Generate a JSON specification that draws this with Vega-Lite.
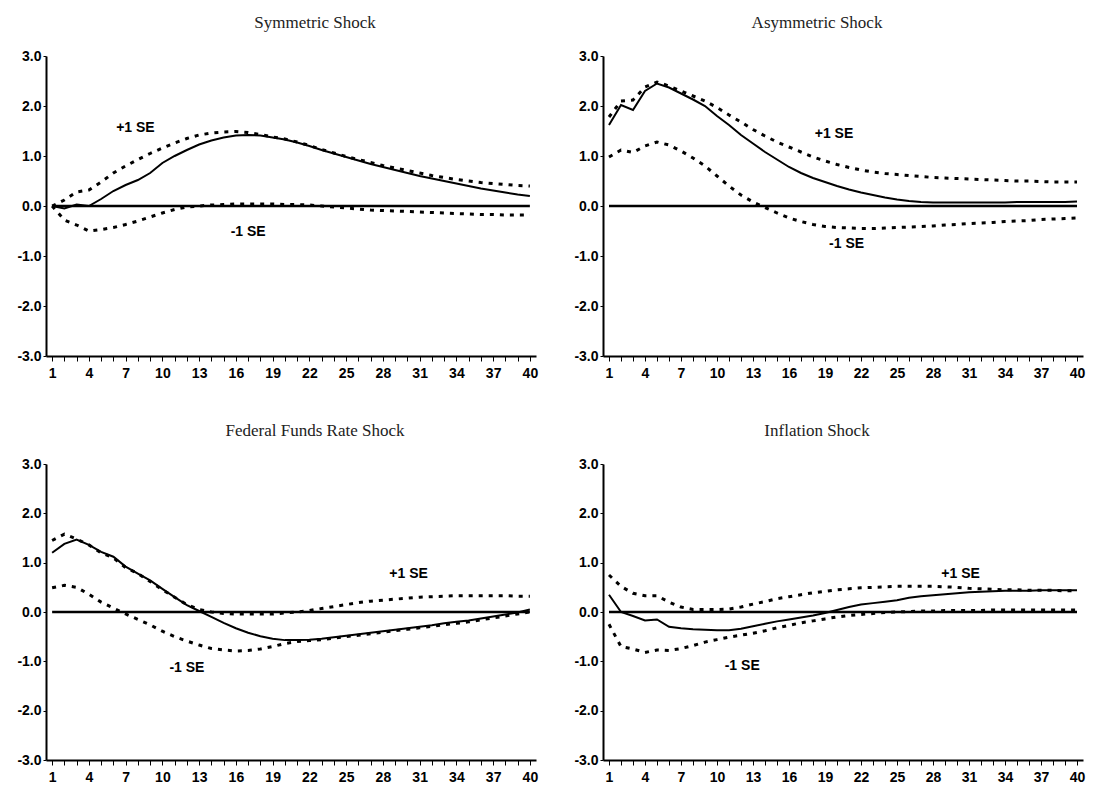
{
  "$schema": "https://vega.github.io/schema/vega-lite/v6.json",
  "background": "white",
  "padding": {"left": 16, "top": 14, "right": 2, "bottom": 2},
  "config": {
    "view": {"stroke": null},
    "axis": {"grid": false, "domainColor": "black", "domainWidth": 2, "tickColor": "black", "labelColor": "black", "labelFont": "Liberation Sans", "labelFontWeight": "bold", "title": null, "labelOverlap": false, "labelBound": false},
    "title": {"font": "Liberation Serif", "fontSize": 17, "fontWeight": "normal", "color": "#222", "anchor": "middle", "offset": 17}
  },
  "datasets": {
    "sym": [
      {"t":1,"r":0,"u":0,"l":0},{"t":2,"r":-0.05,"u":0.12,"l":-0.28},{"t":3,"r":0.03,"u":0.28,"l":-0.38},{"t":4,"r":0.0,"u":0.32,"l":-0.5},
      {"t":5,"r":0.14,"u":0.48,"l":-0.47},{"t":6,"r":0.3,"u":0.66,"l":-0.43},{"t":7,"r":0.42,"u":0.8,"l":-0.37},{"t":8,"r":0.52,"u":0.93,"l":-0.3},
      {"t":9,"r":0.66,"u":1.05,"l":-0.22},{"t":10,"r":0.86,"u":1.16,"l":-0.14},{"t":11,"r":1.0,"u":1.26,"l":-0.07},{"t":12,"r":1.12,"u":1.35,"l":-0.02},
      {"t":13,"r":1.23,"u":1.42,"l":0.0},{"t":14,"r":1.31,"u":1.46,"l":0.02},{"t":15,"r":1.37,"u":1.48,"l":0.03},{"t":16,"r":1.41,"u":1.49,"l":0.04},
      {"t":17,"r":1.42,"u":1.47,"l":0.04},{"t":18,"r":1.41,"u":1.43,"l":0.04},{"t":19,"r":1.37,"u":1.38,"l":0.04},{"t":20,"r":1.33,"u":1.34,"l":0.03},
      {"t":21,"r":1.27,"u":1.28,"l":0.03},{"t":22,"r":1.2,"u":1.21,"l":0.02},{"t":23,"r":1.12,"u":1.13,"l":0.0},{"t":24,"r":1.05,"u":1.06,"l":-0.02},
      {"t":25,"r":0.98,"u":0.99,"l":-0.04},{"t":26,"r":0.91,"u":0.93,"l":-0.06},{"t":27,"r":0.84,"u":0.87,"l":-0.08},{"t":28,"r":0.78,"u":0.81,"l":-0.09},
      {"t":29,"r":0.72,"u":0.76,"l":-0.1},{"t":30,"r":0.66,"u":0.71,"l":-0.11},{"t":31,"r":0.6,"u":0.66,"l":-0.12},{"t":32,"r":0.55,"u":0.61,"l":-0.13},
      {"t":33,"r":0.5,"u":0.57,"l":-0.14},{"t":34,"r":0.45,"u":0.53,"l":-0.15},{"t":35,"r":0.4,"u":0.5,"l":-0.16},{"t":36,"r":0.35,"u":0.47,"l":-0.17},
      {"t":37,"r":0.31,"u":0.45,"l":-0.17},{"t":38,"r":0.27,"u":0.43,"l":-0.18},{"t":39,"r":0.23,"u":0.41,"l":-0.18},{"t":40,"r":0.2,"u":0.4,"l":-0.18}
    ],
    "asym": [
      {"t":1,"r":1.62,"u":1.78,"l":0.98},{"t":2,"r":2.02,"u":2.1,"l":1.12},{"t":3,"r":1.92,"u":2.12,"l":1.07},{"t":4,"r":2.3,"u":2.38,"l":1.2},
      {"t":5,"r":2.45,"u":2.48,"l":1.28},{"t":6,"r":2.37,"u":2.4,"l":1.22},{"t":7,"r":2.25,"u":2.3,"l":1.1},{"t":8,"r":2.13,"u":2.2,"l":0.96},
      {"t":9,"r":2.0,"u":2.1,"l":0.8},{"t":10,"r":1.8,"u":1.97,"l":0.6},{"t":11,"r":1.62,"u":1.82,"l":0.4},{"t":12,"r":1.42,"u":1.68,"l":0.22},
      {"t":13,"r":1.25,"u":1.53,"l":0.08},{"t":14,"r":1.08,"u":1.4,"l":-0.03},{"t":15,"r":0.93,"u":1.28,"l":-0.14},{"t":16,"r":0.78,"u":1.18,"l":-0.24},
      {"t":17,"r":0.66,"u":1.08,"l":-0.31},{"t":18,"r":0.56,"u":0.98,"l":-0.37},{"t":19,"r":0.48,"u":0.9,"l":-0.41},{"t":20,"r":0.4,"u":0.83,"l":-0.43},
      {"t":21,"r":0.33,"u":0.77,"l":-0.44},{"t":22,"r":0.27,"u":0.72,"l":-0.45},{"t":23,"r":0.22,"u":0.68,"l":-0.45},{"t":24,"r":0.17,"u":0.65,"l":-0.44},
      {"t":25,"r":0.13,"u":0.63,"l":-0.43},{"t":26,"r":0.1,"u":0.61,"l":-0.42},{"t":27,"r":0.08,"u":0.59,"l":-0.41},{"t":28,"r":0.07,"u":0.57,"l":-0.4},
      {"t":29,"r":0.07,"u":0.56,"l":-0.38},{"t":30,"r":0.07,"u":0.55,"l":-0.37},{"t":31,"r":0.07,"u":0.54,"l":-0.35},{"t":32,"r":0.07,"u":0.53,"l":-0.34},
      {"t":33,"r":0.07,"u":0.52,"l":-0.33},{"t":34,"r":0.07,"u":0.51,"l":-0.31},{"t":35,"r":0.08,"u":0.5,"l":-0.3},{"t":36,"r":0.08,"u":0.5,"l":-0.29},
      {"t":37,"r":0.08,"u":0.49,"l":-0.27},{"t":38,"r":0.08,"u":0.48,"l":-0.26},{"t":39,"r":0.08,"u":0.48,"l":-0.25},{"t":40,"r":0.09,"u":0.48,"l":-0.24}
    ],
    "ffr": [
      {"t":1,"r":1.2,"u":1.45,"l":0.49},{"t":2,"r":1.38,"u":1.58,"l":0.54},{"t":3,"r":1.47,"u":1.48,"l":0.5},{"t":4,"r":1.36,"u":1.36,"l":0.36},
      {"t":5,"r":1.22,"u":1.2,"l":0.2},{"t":6,"r":1.12,"u":1.1,"l":0.08},{"t":7,"r":0.92,"u":0.9,"l":-0.04},{"t":8,"r":0.78,"u":0.78,"l":-0.15},
      {"t":9,"r":0.64,"u":0.62,"l":-0.26},{"t":10,"r":0.47,"u":0.45,"l":-0.39},{"t":11,"r":0.3,"u":0.3,"l":-0.5},{"t":12,"r":0.14,"u":0.15,"l":-0.59},
      {"t":13,"r":0.02,"u":0.05,"l":-0.67},{"t":14,"r":-0.1,"u":0.0,"l":-0.74},{"t":15,"r":-0.22,"u":-0.03,"l":-0.77},{"t":16,"r":-0.33,"u":-0.04,"l":-0.79},
      {"t":17,"r":-0.42,"u":-0.04,"l":-0.78},{"t":18,"r":-0.49,"u":-0.04,"l":-0.75},{"t":19,"r":-0.54,"u":-0.04,"l":-0.7},{"t":20,"r":-0.57,"u":-0.02,"l":-0.64},
      {"t":21,"r":-0.57,"u":0.0,"l":-0.6},{"t":22,"r":-0.56,"u":0.03,"l":-0.58},{"t":23,"r":-0.54,"u":0.07,"l":-0.56},{"t":24,"r":-0.51,"u":0.11,"l":-0.53},
      {"t":25,"r":-0.48,"u":0.15,"l":-0.5},{"t":26,"r":-0.45,"u":0.19,"l":-0.47},{"t":27,"r":-0.42,"u":0.22,"l":-0.44},{"t":28,"r":-0.39,"u":0.24,"l":-0.41},
      {"t":29,"r":-0.36,"u":0.26,"l":-0.38},{"t":30,"r":-0.33,"u":0.28,"l":-0.35},{"t":31,"r":-0.3,"u":0.3,"l":-0.32},{"t":32,"r":-0.27,"u":0.31,"l":-0.29},
      {"t":33,"r":-0.23,"u":0.32,"l":-0.26},{"t":34,"r":-0.2,"u":0.33,"l":-0.23},{"t":35,"r":-0.17,"u":0.33,"l":-0.2},{"t":36,"r":-0.13,"u":0.33,"l":-0.16},
      {"t":37,"r":-0.09,"u":0.33,"l":-0.12},{"t":38,"r":-0.05,"u":0.33,"l":-0.08},{"t":39,"r":-0.01,"u":0.32,"l":-0.04},{"t":40,"r":0.05,"u":0.32,"l":0.0}
    ],
    "infl": [
      {"t":1,"r":0.35,"u":0.75,"l":-0.25},{"t":2,"r":0.0,"u":0.52,"l":-0.7},{"t":3,"r":-0.08,"u":0.38,"l":-0.75},{"t":4,"r":-0.17,"u":0.33,"l":-0.82},
      {"t":5,"r":-0.15,"u":0.33,"l":-0.77},{"t":6,"r":-0.3,"u":0.2,"l":-0.78},{"t":7,"r":-0.33,"u":0.1,"l":-0.74},{"t":8,"r":-0.35,"u":0.05,"l":-0.68},
      {"t":9,"r":-0.36,"u":0.05,"l":-0.61},{"t":10,"r":-0.37,"u":0.05,"l":-0.56},{"t":11,"r":-0.37,"u":0.06,"l":-0.51},{"t":12,"r":-0.34,"u":0.1,"l":-0.47},
      {"t":13,"r":-0.29,"u":0.16,"l":-0.43},{"t":14,"r":-0.24,"u":0.21,"l":-0.38},{"t":15,"r":-0.19,"u":0.27,"l":-0.32},{"t":16,"r":-0.15,"u":0.31,"l":-0.27},
      {"t":17,"r":-0.11,"u":0.35,"l":-0.22},{"t":18,"r":-0.07,"u":0.39,"l":-0.18},{"t":19,"r":-0.02,"u":0.42,"l":-0.14},{"t":20,"r":0.04,"u":0.45,"l":-0.1},
      {"t":21,"r":0.1,"u":0.47,"l":-0.07},{"t":22,"r":0.15,"u":0.49,"l":-0.05},{"t":23,"r":0.18,"u":0.5,"l":-0.03},{"t":24,"r":0.21,"u":0.51,"l":-0.01},
      {"t":25,"r":0.24,"u":0.52,"l":0.0},{"t":26,"r":0.29,"u":0.52,"l":0.01},{"t":27,"r":0.32,"u":0.52,"l":0.02},{"t":28,"r":0.34,"u":0.52,"l":0.02},
      {"t":29,"r":0.36,"u":0.51,"l":0.03},{"t":30,"r":0.38,"u":0.5,"l":0.03},{"t":31,"r":0.4,"u":0.48,"l":0.03},{"t":32,"r":0.41,"u":0.47,"l":0.03},
      {"t":33,"r":0.42,"u":0.46,"l":0.04},{"t":34,"r":0.43,"u":0.45,"l":0.04},{"t":35,"r":0.43,"u":0.45,"l":0.04},{"t":36,"r":0.43,"u":0.44,"l":0.04},
      {"t":37,"r":0.44,"u":0.44,"l":0.04},{"t":38,"r":0.44,"u":0.44,"l":0.04},{"t":39,"r":0.44,"u":0.43,"l":0.04},{"t":40,"r":0.44,"u":0.43,"l":0.04}
    ],
    "labels": [
      {"p":"sym","x":7.8,"y":1.56,"s":"+1 SE"},{"p":"sym","x":17.0,"y":-0.52,"s":"-1 SE"},
      {"p":"asym","x":19.75,"y":1.44,"s":"+1 SE"},{"p":"asym","x":20.8,"y":-0.76,"s":"-1 SE"},
      {"p":"ffr","x":30.1,"y":0.78,"s":"+1 SE"},{"p":"ffr","x":12.0,"y":-1.13,"s":"-1 SE"},
      {"p":"infl","x":30.3,"y":0.78,"s":"+1 SE"},{"p":"infl","x":12.1,"y":-1.1,"s":"-1 SE"}
    ]
  },
  "vconcat": [
    {
      "spacing": 35,
      "hconcat": [
        {
          "width": 490, "height": 300,
          "title": {"text": "Symmetric Shock", "dx": 24},
          "layer": [
            {"data": {"name": "sym"}, "mark": {"type": "line", "color": "black", "strokeWidth": 2.5},
             "encoding": {"x": {"field": "t", "type": "quantitative", "scale": {"domain": [0.5, 40.5], "nice": false}, "axis": {"values": [1,2,3,4,5,6,7,8,9,10,11,12,13,14,15,16,17,18,19,20,21,22,23,24,25,26,27,28,29,30,31,32,33,34,35,36,37,38,39,40], "tickCount": 80, "labelExpr": "(datum.value - 1) % 3 == 0 ? format(datum.value, 'd') : ''", "tickSize": 5, "labelPadding": 5, "labelFontSize": 14, "labelFlush": false, "labelOverlap": false}},
                          "y": {"datum": 0, "type": "quantitative", "scale": {"domain": [-3, 3], "nice": false}, "axis": {"values": [-3,-2,-1,0,1,2,3], "labelExpr": "replace(format(datum.value, '.1f'), '\u2212', '-')", "tickSize": 3, "labelPadding": 2, "labelFontSize": 14}}}},
            {"data": {"name": "sym"}, "mark": {"type": "line", "color": "black", "strokeWidth": 2},
             "encoding": {"x": {"field": "t", "type": "quantitative"}, "y": {"field": "r", "type": "quantitative"}}},
            {"data": {"name": "sym"}, "mark": {"type": "line", "color": "black", "strokeWidth": 3, "strokeDash": [4, 6]},
             "encoding": {"x": {"field": "t", "type": "quantitative"}, "y": {"field": "u", "type": "quantitative"}}},
            {"data": {"name": "sym"}, "mark": {"type": "line", "color": "black", "strokeWidth": 3, "strokeDash": [4, 6]},
             "encoding": {"x": {"field": "t", "type": "quantitative"}, "y": {"field": "l", "type": "quantitative"}}},
            {"data": {"name": "labels"}, "transform": [{"filter": "datum.p == 'sym'"}],
             "mark": {"type": "text", "font": "Liberation Sans", "fontWeight": "bold", "fontSize": 14, "color": "black", "align": "center", "baseline": "middle"},
             "encoding": {"x": {"field": "x", "type": "quantitative"}, "y": {"field": "y", "type": "quantitative"}, "text": {"field": "s"}}}
          ]
        },
        {
          "width": 480, "height": 300,
          "title": {"text": "Asymmetric Shock", "dx": -26},
          "layer": [
            {"data": {"name": "asym"}, "mark": {"type": "line", "color": "black", "strokeWidth": 2.5},
             "encoding": {"x": {"field": "t", "type": "quantitative", "scale": {"domain": [0.5, 40.5], "nice": false}, "axis": {"values": [1,2,3,4,5,6,7,8,9,10,11,12,13,14,15,16,17,18,19,20,21,22,23,24,25,26,27,28,29,30,31,32,33,34,35,36,37,38,39,40], "tickCount": 80, "labelExpr": "(datum.value - 1) % 3 == 0 ? format(datum.value, 'd') : ''", "tickSize": 5, "labelPadding": 5, "labelFontSize": 14, "labelFlush": false, "labelOverlap": false}},
                          "y": {"datum": 0, "type": "quantitative", "scale": {"domain": [-3, 3], "nice": false}, "axis": {"values": [-3,-2,-1,0,1,2,3], "labelExpr": "replace(format(datum.value, '.1f'), '\u2212', '-')", "tickSize": 3, "labelPadding": 2, "labelFontSize": 14}}}},
            {"data": {"name": "asym"}, "mark": {"type": "line", "color": "black", "strokeWidth": 2},
             "encoding": {"x": {"field": "t", "type": "quantitative"}, "y": {"field": "r", "type": "quantitative"}}},
            {"data": {"name": "asym"}, "mark": {"type": "line", "color": "black", "strokeWidth": 3, "strokeDash": [4, 6]},
             "encoding": {"x": {"field": "t", "type": "quantitative"}, "y": {"field": "u", "type": "quantitative"}}},
            {"data": {"name": "asym"}, "mark": {"type": "line", "color": "black", "strokeWidth": 3, "strokeDash": [4, 6]},
             "encoding": {"x": {"field": "t", "type": "quantitative"}, "y": {"field": "l", "type": "quantitative"}}},
            {"data": {"name": "labels"}, "transform": [{"filter": "datum.p == 'asym'"}],
             "mark": {"type": "text", "font": "Liberation Sans", "fontWeight": "bold", "fontSize": 14, "color": "black", "align": "center", "baseline": "middle"},
             "encoding": {"x": {"field": "x", "type": "quantitative"}, "y": {"field": "y", "type": "quantitative"}, "text": {"field": "s"}}}
          ]
        }
      ]
    },
    {
      "spacing": 35,
      "hconcat": [
        {
          "width": 490, "height": 296,
          "title": {"text": "Federal Funds Rate Shock", "dx": 24},
          "layer": [
            {"data": {"name": "ffr"}, "mark": {"type": "line", "color": "black", "strokeWidth": 2.5},
             "encoding": {"x": {"field": "t", "type": "quantitative", "scale": {"domain": [0.5, 40.5], "nice": false}, "axis": {"values": [1,2,3,4,5,6,7,8,9,10,11,12,13,14,15,16,17,18,19,20,21,22,23,24,25,26,27,28,29,30,31,32,33,34,35,36,37,38,39,40], "tickCount": 80, "labelExpr": "(datum.value - 1) % 3 == 0 ? format(datum.value, 'd') : ''", "tickSize": 5, "labelPadding": 5, "labelFontSize": 14, "labelFlush": false, "labelOverlap": false}},
                          "y": {"datum": 0, "type": "quantitative", "scale": {"domain": [-3, 3], "nice": false}, "axis": {"values": [-3,-2,-1,0,1,2,3], "labelExpr": "replace(format(datum.value, '.1f'), '\u2212', '-')", "tickSize": 3, "labelPadding": 2, "labelFontSize": 14}}}},
            {"data": {"name": "ffr"}, "mark": {"type": "line", "color": "black", "strokeWidth": 2},
             "encoding": {"x": {"field": "t", "type": "quantitative"}, "y": {"field": "r", "type": "quantitative"}}},
            {"data": {"name": "ffr"}, "mark": {"type": "line", "color": "black", "strokeWidth": 3, "strokeDash": [4, 6]},
             "encoding": {"x": {"field": "t", "type": "quantitative"}, "y": {"field": "u", "type": "quantitative"}}},
            {"data": {"name": "ffr"}, "mark": {"type": "line", "color": "black", "strokeWidth": 3, "strokeDash": [4, 6]},
             "encoding": {"x": {"field": "t", "type": "quantitative"}, "y": {"field": "l", "type": "quantitative"}}},
            {"data": {"name": "labels"}, "transform": [{"filter": "datum.p == 'ffr'"}],
             "mark": {"type": "text", "font": "Liberation Sans", "fontWeight": "bold", "fontSize": 14, "color": "black", "align": "center", "baseline": "middle"},
             "encoding": {"x": {"field": "x", "type": "quantitative"}, "y": {"field": "y", "type": "quantitative"}, "text": {"field": "s"}}}
          ]
        },
        {
          "width": 480, "height": 296,
          "title": {"text": "Inflation Shock", "dx": -26},
          "layer": [
            {"data": {"name": "infl"}, "mark": {"type": "line", "color": "black", "strokeWidth": 2.5},
             "encoding": {"x": {"field": "t", "type": "quantitative", "scale": {"domain": [0.5, 40.5], "nice": false}, "axis": {"values": [1,2,3,4,5,6,7,8,9,10,11,12,13,14,15,16,17,18,19,20,21,22,23,24,25,26,27,28,29,30,31,32,33,34,35,36,37,38,39,40], "tickCount": 80, "labelExpr": "(datum.value - 1) % 3 == 0 ? format(datum.value, 'd') : ''", "tickSize": 5, "labelPadding": 5, "labelFontSize": 14, "labelFlush": false, "labelOverlap": false}},
                          "y": {"datum": 0, "type": "quantitative", "scale": {"domain": [-3, 3], "nice": false}, "axis": {"values": [-3,-2,-1,0,1,2,3], "labelExpr": "replace(format(datum.value, '.1f'), '\u2212', '-')", "tickSize": 3, "labelPadding": 2, "labelFontSize": 14}}}},
            {"data": {"name": "infl"}, "mark": {"type": "line", "color": "black", "strokeWidth": 2},
             "encoding": {"x": {"field": "t", "type": "quantitative"}, "y": {"field": "r", "type": "quantitative"}}},
            {"data": {"name": "infl"}, "mark": {"type": "line", "color": "black", "strokeWidth": 3, "strokeDash": [4, 6]},
             "encoding": {"x": {"field": "t", "type": "quantitative"}, "y": {"field": "u", "type": "quantitative"}}},
            {"data": {"name": "infl"}, "mark": {"type": "line", "color": "black", "strokeWidth": 3, "strokeDash": [4, 6]},
             "encoding": {"x": {"field": "t", "type": "quantitative"}, "y": {"field": "l", "type": "quantitative"}}},
            {"data": {"name": "labels"}, "transform": [{"filter": "datum.p == 'infl'"}],
             "mark": {"type": "text", "font": "Liberation Sans", "fontWeight": "bold", "fontSize": 14, "color": "black", "align": "center", "baseline": "middle"},
             "encoding": {"x": {"field": "x", "type": "quantitative"}, "y": {"field": "y", "type": "quantitative"}, "text": {"field": "s"}}}
          ]
        }
      ]
    }
  ],
  "spacing": 42
}
